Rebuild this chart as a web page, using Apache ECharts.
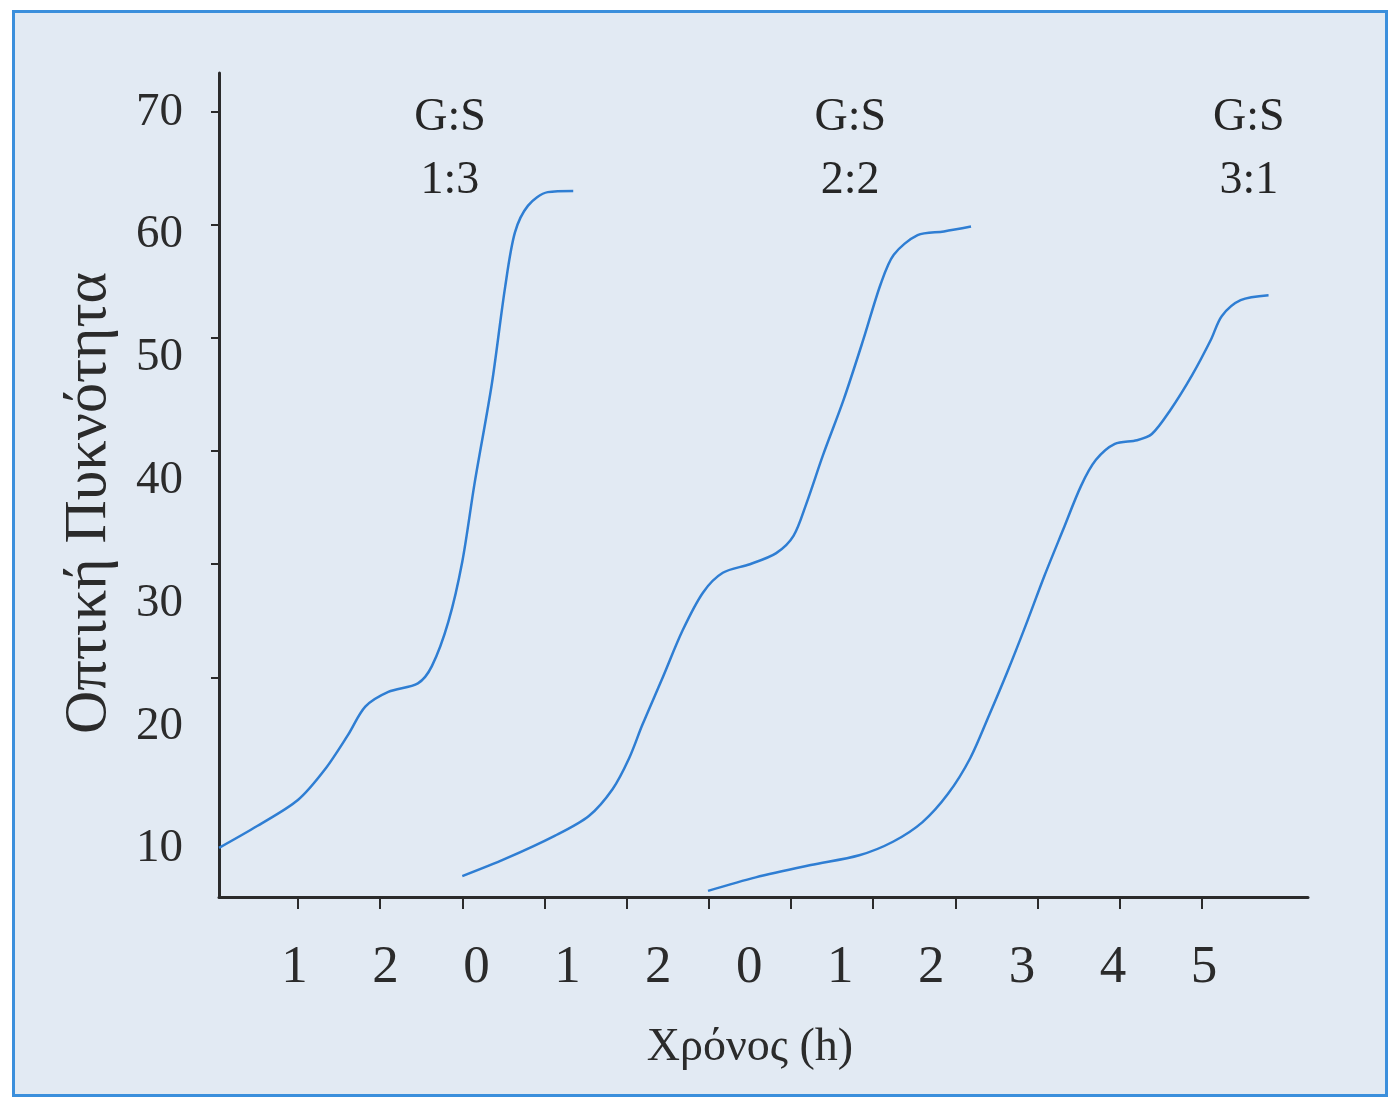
<!DOCTYPE html>
<html>
<head>
<meta charset="utf-8">
<title>Οπτική Πυκνότητα</title>
<script src="https://cdn.jsdelivr.net/npm/echarts@6/dist/echarts.min.js"></script>
<style>
  html, body { margin: 0; padding: 0; background: #fff; }
  #frame { position: absolute; left: 12px; top: 10px; width: 1370px; height: 1081px; border: 3px solid #3b8fdc; background: #e2eaf3; }
  #chart { position: absolute; left: 0; top: 0; width: 1391px; height: 1099px; }
</style>
</head>
<body>
<div id="frame"></div>
<div id="chart"></div>
<script>
// running time axis, one tick per hour; y = optical density
var curve13X = [0.04, 0.51, 1.00, 1.33, 1.61, 1.82, 2.10, 2.46, 2.63, 2.83, 3.00, 3.15, 3.36, 3.52, 3.64, 3.80, 4.04, 4.35];
var curve13Y = [10.1, 11.9, 14.0, 16.5, 19.3, 21.6, 22.8, 23.5, 24.9, 28.5, 33.4, 39.8, 47.9, 55.7, 60.2, 62.4, 63.5, 63.6];

var curve22X = [3.00, 3.52, 4.13, 4.54, 4.83, 5.03, 5.19, 5.44, 5.68, 5.93, 6.17, 6.50, 6.82, 7.03, 7.19, 7.39, 7.64, 7.88, 8.09, 8.25, 8.54, 8.86, 9.19];
var curve22Y = [7.8, 9.2, 11.1, 12.7, 14.9, 17.4, 20.1, 24.0, 27.8, 30.9, 32.5, 33.2, 34.1, 35.5, 38.2, 42.1, 46.6, 51.5, 56.0, 58.4, 60.0, 60.3, 60.7];

var curve31X = [5.99, 6.57, 7.24, 7.83, 8.24, 8.60, 8.91, 9.18, 9.41, 9.63, 9.86, 10.08, 10.31, 10.53, 10.71, 10.94, 11.21, 11.39, 11.61, 11.88, 12.11, 12.24, 12.47, 12.81];
var curve31Y = [6.6, 7.7, 8.7, 9.5, 10.6, 12.2, 14.5, 17.4, 20.9, 24.4, 28.3, 32.2, 36.0, 39.6, 41.7, 43.0, 43.3, 43.8, 45.7, 48.6, 51.5, 53.4, 54.7, 55.1];

var ratios = ['1:3', '2:2', '3:1'];
var ratioX = [2.85, 7.72, 12.57];   // where the G:S captions sit
var ratioY = 67.0;

var xTickPos = [1, 2, 3, 4, 5, 6, 7, 8, 9, 10, 11, 12];
var xTickLabels = ['1', '2', '0', '1', '2', '0', '1', '2', '3', '4', '5'];
var xLabelPos = [1, 2, 3, 4, 5, 6, 7, 8, 9, 10, 11];
var yLabelVals = [10, 20, 30, 40, 50, 60, 70];
var yTickPos = [20, 30, 40, 50, 60, 70];

var xName = 'Χρόνος (h)';
var yName = 'Οπτική Πυκνότητα';

var serif = '"Liberation Serif", "DejaVu Serif", serif';
var ink = '#2b2b2b';
var blue = '#2f7ed3';

function pairs(xs, ys) {
    return xs.map(function (x, i) { return [x, ys[i]]; });
}

function curve(xs, ys, idx) {
    return {
        type: 'line',
        data: pairs(xs, ys),
        smooth: 0.3,
        showSymbol: false,
        lineStyle: { color: blue, width: 2.5 },
        itemStyle: { color: blue },
        silent: true,
        markPoint: {
            silent: true,
            symbol: 'circle',
            symbolSize: 0,
            data: [{ coord: [ratioX[idx], ratioY] }],
            label: {
                show: true,
                position: 'inside',
                formatter: 'G:S\n' + ratios[idx],
                color: '#262626',
                fontSize: 46,
                lineHeight: 63,
                fontFamily: serif,
                textBorderWidth: 0
            }
        }
    };
}

var chart = echarts.init(document.getElementById('chart'));

var option = {
    backgroundColor: 'transparent',
    animation: false,
    grid: { left: 219, top: 73, right: 83, bottom: 202 },
    xAxis: [{
        type: 'value',
        min: 0.04,
        max: 13.29,
        axisLine: { show: true, onZero: false, lineStyle: { color: ink, width: 3 } },
        axisTick: { show: true, customValues: xTickPos, length: 12, lineStyle: { color: ink, width: 2 } },
        axisLabel: { show: false },
        splitLine: { show: false }
    }, {
        // printed hour labels (they drift from the ticks in the original)
        type: 'value',
        position: 'bottom',
        min: 0.169,
        max: 12.144,
        axisLine: { show: false },
        axisTick: { show: false },
        splitLine: { show: false },
        axisLabel: {
            customValues: xLabelPos,
            formatter: function (v) { return xTickLabels[Math.round(v) - 1]; },
            margin: 45,
            fontSize: 53,
            color: ink,
            fontFamily: serif
        },
        name: xName,
        nameLocation: 'middle',
        nameGap: 128,
        nameTextStyle: { fontSize: 46, color: ink, fontFamily: serif, padding: [0, 27, 0, 0] }
    }],
    yAxis: [{
        type: 'value',
        position: 'left',
        min: 6.1,
        max: 73.2,
        axisLine: { show: true, lineStyle: { color: ink, width: 3 } },
        axisTick: { show: false },
        splitLine: { show: false },
        axisLabel: {
            customValues: yLabelVals,
            margin: 36,
            fontSize: 47,
            color: ink,
            fontFamily: serif
        },
        name: yName,
        nameLocation: 'middle',
        nameGap: 100,
        nameTextStyle: { fontSize: 60, color: ink, fontFamily: serif, padding: [0, 36, 0, 0] }
    }, {
        type: 'value',
        position: 'left',
        min: 0.6,
        max: 73.4,
        axisLine: { show: false },
        axisTick: { show: true, customValues: yTickPos, length: 8, lineStyle: { color: ink, width: 2 } },
        axisLabel: { show: false },
        splitLine: { show: false }
    }],
    series: [
        curve(curve13X, curve13Y, 0),
        curve(curve22X, curve22Y, 1),
        curve(curve31X, curve31Y, 2)
    ]
};

chart.setOption(option);
</script>
</body>
</html>
